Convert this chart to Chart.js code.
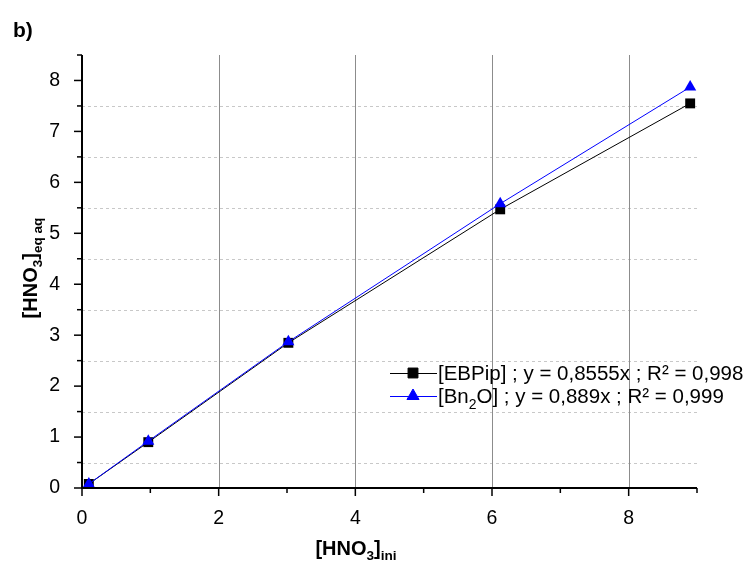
<!DOCTYPE html>
<html>
<head>
<meta charset="utf-8">
<script src="https://cdn.jsdelivr.net/npm/chart.js@4.4.1/dist/chart.umd.min.js"></script>
<style>
  html, body { margin: 0; padding: 0; background: #fff; }
  #wrap { width: 749px; height: 570px; }
</style>
</head>
<body>
<div id="wrap"><canvas id="chart" width="749" height="570"></canvas></div>
<script>
// values
const hnoIni = [0.1, 0.97, 3.02, 6.12, 8.9];
const ebpipEq = [0.08, 0.9, 2.85, 5.47, 7.55];
const bn2oEq = [0.08, 0.92, 2.87, 5.58, 7.87];
const xTicks = [0, 2, 4, 6, 8];
const yTicks = [0, 1, 2, 3, 4, 5, 6, 7, 8];

const FONT = "'Liberation Sans', Arial, sans-serif";

const toPoints = (xs, ys) => xs.map((x, i) => ({ x: x, y: ys[i] }));

// write text with sub pieces, parts = [[text, kind]]
function richText(ctx, parts, x, y, size, bold, align) {
  const w = parts.reduce((s, p) => {
    ctx.font = (bold ? 'bold ' : '') + (p[1] ? size * 0.68 : size) + 'px ' + FONT;
    return s + ctx.measureText(p[0]).width;
  }, 0);
  let cx = align === 'center' ? x - w / 2 : x;
  ctx.textAlign = 'left';
  ctx.textBaseline = 'middle';
  for (const p of parts) {
    ctx.font = (bold ? 'bold ' : '') + (p[1] ? size * 0.68 : size) + 'px ' + FONT;
    const dy = p[1] === 'sub' ? size * 0.38 : 0;
    ctx.fillText(p[0], cx, y + dy);
    cx += ctx.measureText(p[0]).width;
  }
}

// grid, ticks, titles and legend
const decor = {
  id: 'decor',
  beforeDatasetsDraw(chart) {
    const ctx = chart.ctx, a = chart.chartArea;
    const xs = chart.scales.x, ys = chart.scales.y;
    ctx.save();
    ctx.lineWidth = 1;
    ctx.strokeStyle = '#c8c8c8';
    ctx.setLineDash([3, 3]);
    for (let v = 0.5; v < 8.5; v += 1) {
      const py = Math.round(ys.getPixelForValue(v)) + 0.5;
      ctx.beginPath(); ctx.moveTo(a.left, py); ctx.lineTo(a.right, py); ctx.stroke();
    }
    ctx.setLineDash([]);
    ctx.strokeStyle = '#8c8c8c';
    for (const v of [2, 4, 6, 8]) {
      const px = Math.round(xs.getPixelForValue(v)) + 0.5;
      ctx.beginPath(); ctx.moveTo(px, a.top); ctx.lineTo(px, a.bottom); ctx.stroke();
    }
    ctx.restore();
  },
  afterDraw(chart) {
    const ctx = chart.ctx, a = chart.chartArea;
    const xs = chart.scales.x, ys = chart.scales.y;
    ctx.save();
    ctx.strokeStyle = '#000';
    ctx.lineWidth = 2;
    ctx.beginPath();
    ctx.moveTo(a.left, a.top); ctx.lineTo(a.left, a.bottom); ctx.lineTo(a.right, a.bottom);
    ctx.stroke();
    ctx.lineWidth = 1.5;
    for (let v = 0; v <= 9; v += 1) {
      const px = xs.getPixelForValue(v);
      const len = v % 2 === 0 ? 8 : 5;
      ctx.beginPath(); ctx.moveTo(px, a.bottom); ctx.lineTo(px, a.bottom + len); ctx.stroke();
    }
    for (let v = 0; v <= 8.5; v += 0.5) {
      const py = ys.getPixelForValue(v);
      const len = v % 1 === 0 ? 8 : 5;
      ctx.beginPath(); ctx.moveTo(a.left, py); ctx.lineTo(a.left - len, py); ctx.stroke();
    }
    ctx.fillStyle = '#000';
    ctx.font = 'bold 21px ' + FONT;
    ctx.textAlign = 'left'; ctx.textBaseline = 'middle';
    ctx.fillText('b)', 13, 31);

    richText(ctx, [['[HNO', ''], ['3', 'sub'], [']', ''], ['ini', 'sub']], 356, 549, 20, true, 'center');
    ctx.save();
    ctx.translate(31, 268);
    ctx.rotate(-Math.PI / 2);
    richText(ctx, [['[HNO', ''], ['3', 'sub'], [']', ''], ['eq aq', 'sub']], 0, 0, 20, true, 'center');
    ctx.restore();

    // legend
    const rows = [
      { y: 373, color: '#000', style: 'rect', parts: [['[EBPip] ; y = 0,8555x ; R² = 0,998', '']] },
      { y: 396, color: '#0000ff', style: 'triangle', parts: [['[Bn', ''], ['2', 'sub'], ['O] ; y = 0,889x ; R² = 0,999', '']] }
    ];
    for (const r of rows) {
      ctx.strokeStyle = r.color; ctx.fillStyle = r.color; ctx.lineWidth = 1;
      ctx.beginPath(); ctx.moveTo(390, r.y + 0.5); ctx.lineTo(437, r.y + 0.5); ctx.stroke();
      Chart.helpers.drawPoint(ctx, { pointStyle: r.style, radius: 7, borderWidth: 1, rotation: 0 }, 413, r.y);
      ctx.fillStyle = '#000';
      richText(ctx, r.parts, 438, r.y + 1, 20.5, false, 'left');
    }
    ctx.restore();
  }
};

new Chart(document.getElementById('chart'), {
  type: 'scatter',
  plugins: [decor],
  data: {
    datasets: [
      {
        label: '[EBPip]',
        data: toPoints(hnoIni, ebpipEq),
        showLine: true,
        order: 1,
        borderColor: '#000',
        backgroundColor: '#000',
        borderWidth: 1,
        pointStyle: 'rect',
        pointRadius: 7,
        pointBorderWidth: 0
      },
      {
        label: '[Bn2O]',
        data: toPoints(hnoIni, bn2oEq),
        showLine: true,
        order: 0,
        borderColor: '#0000ff',
        backgroundColor: '#0000ff',
        borderWidth: 1,
        pointStyle: 'triangle',
        pointRadius: 7,
        pointBorderWidth: 0
      }
    ]
  },
  options: {
    responsive: false,
    animation: false,
    layout: { padding: { left: 0, top: 55, right: 52, bottom: 0 } },
    plugins: { legend: { display: false }, tooltip: { enabled: false } },
    scales: {
      x: {
        type: 'linear', min: 0, max: 9,
        afterFit: s => { s.height = 82; },
        afterBuildTicks: s => { s.ticks = xTicks.map(v => ({ value: v })); },
        grid: { display: false },
        border: { display: false },
        ticks: { color: '#000', font: { family: FONT, size: 19.5 }, padding: 11, maxRotation: 0 }
      },
      y: {
        type: 'linear', min: 0, max: 8.5,
        afterFit: s => { s.width = 82; },
        afterBuildTicks: s => { s.ticks = yTicks.map(v => ({ value: v })); },
        grid: { display: false },
        border: { display: false },
        ticks: { color: '#000', font: { family: FONT, size: 19.5 }, padding: 14 }
      }
    }
  }
});
</script>
</body>
</html>
